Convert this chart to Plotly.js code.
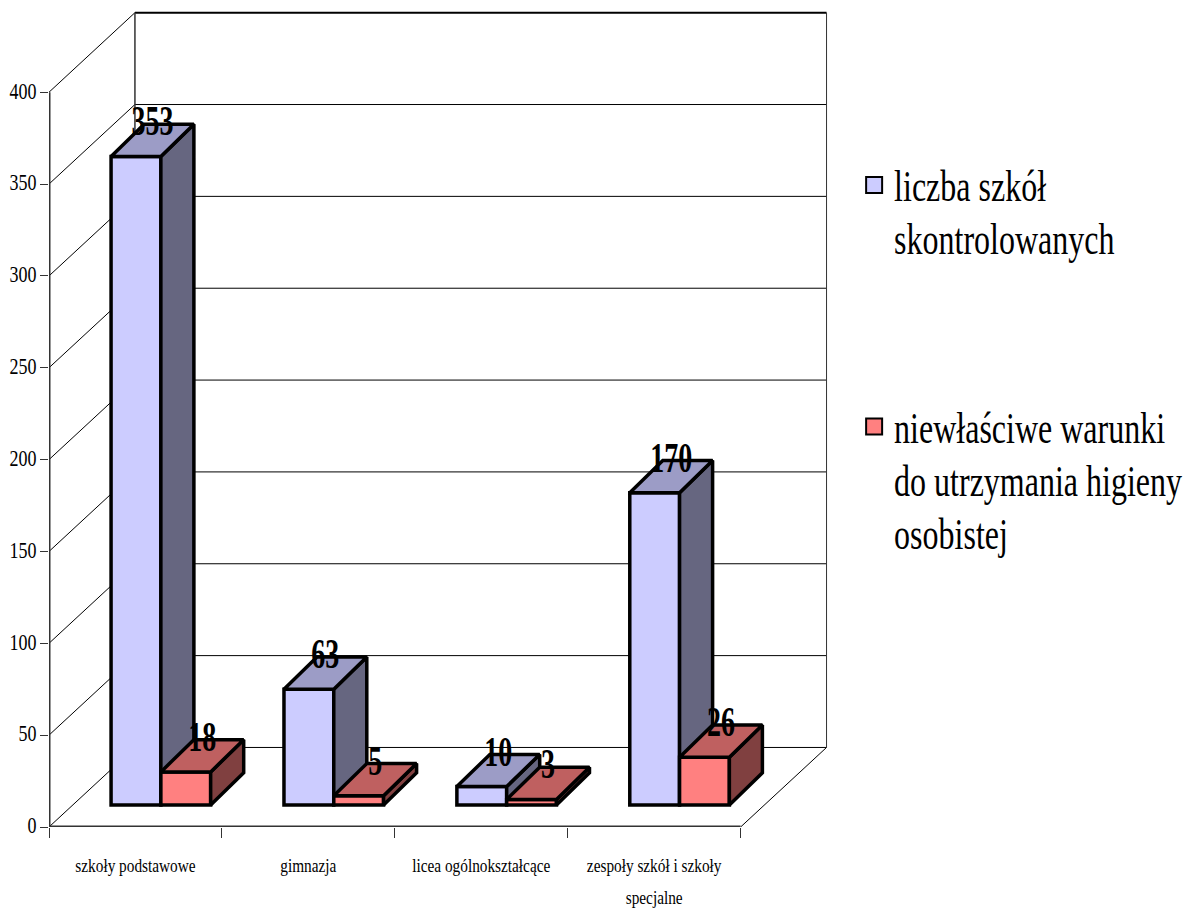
<!DOCTYPE html>
<html>
<head>
<meta charset="utf-8">
<script src="https://cdn.plot.ly/plotly-3.0.1.min.js"></script>
<style>html,body{margin:0;padding:0;background:#fff}</style>
</head>
<body>
<div id="chart" style="width:1183px;height:909px"></div>
<script>
// Inspection results by school type
const categories = ['szkoły podstawowe', 'gimnazja', 'licea ogólnokształcące', 'zespoły szkół i szkoły<br>specjalne'];
const inspected = [353, 63, 10, 170];
const poorHygiene = [18, 5, 3, 26];
const inspectedName = 'liczba szkół<br>skontrolowanych';
const poorHygieneName = 'niewłaściwe warunki<br>do utrzymania higieny<br>osobistej';
const yTicks = [0, 50, 100, 150, 200, 250, 300, 350, 400];

// Oblique projection of the 3-D box, in axis units
const wallDx = 0.497, wallDy = 43.3;   // floor depth
const barDx = 0.191, barDy = 17.5;     // column depth
const barBase = 12;                    // columns stand forward of the back wall
const barWidth = 0.288;
const groupCentre = 0.647;
const labelLift = 6.5;
const edgeRoomX = 0.02, edgeRoomY = 2; // keeps the outer wall lines from being clipped
const serif = '"Liberation Serif", serif';

const xRange = [0, categories.length + wallDx + edgeRoomX];
const yRange = [0, 400 + wallDy + edgeRoomY];

function columnFaces(values, left, colours, xa, ya) {
  const traces = [];
  const face = (xs, ys, fill) => traces.push({
    type: 'scatter', mode: 'lines', x: xs, y: ys, xaxis: xa, yaxis: ya,
    fill: 'toself', fillcolor: fill, line: {color: '#000', width: 3.5},
    hoverinfo: 'skip', showlegend: false
  });
  values.forEach((v, i) => {
    const x0 = i + groupCentre + left, x1 = x0 + barWidth, top = barBase + v;
    face([x1, x1 + barDx, x1 + barDx, x1, x1],
         [barBase, barBase + barDy, top + barDy, top, barBase], colours.side);
    face([x0, x1, x1 + barDx, x0 + barDx, x0],
         [top, top, top + barDy, top + barDy, top], colours.top);
  });
  return traces;
}

function columnFronts(values, left, colour, xa, ya) {
  return {
    type: 'bar', x: values.map((_, i) => i + groupCentre + left + barWidth / 2),
    y: values, base: values.map(() => barBase), width: barWidth,
    xaxis: xa, yaxis: ya, marker: {color: colour, line: {color: '#000', width: 3.5}},
    hoverinfo: 'y', showlegend: false
  };
}

function valueLabels(values, left) {
  return {
    type: 'scatter', mode: 'text', xaxis: 'x2', yaxis: 'y2',
    x: values.map((_, i) => i + groupCentre + left + barWidth / 2 + barDx / 2),
    y: values.map(v => barBase + v + barDy / 2 + labelLift),
    text: values.map(String), textposition: 'middle center', cliponaxis: false,
    textfont: {family: serif, size: 28, color: '#000', weight: 'bold'},
    hoverinfo: 'skip', showlegend: false
  };
}

function legendEntry(name, colour, group) {
  return {
    type: 'scatter', mode: 'markers', x: [null], y: [null], name: name, legendgroup: group,
    marker: {symbol: 'square', size: 16, color: colour, line: {color: '#000', width: 2}}
  };
}

const blue = {front: '#CCCCFF', top: '#9C9CC6', side: '#666680'};
const red = {front: '#FF8080', top: '#BF6060', side: '#804040'};

// Multi-line labels keep a wide line pitch: the outer font sets the pitch, the span the glyph size
const sized = (s, px) => s.split('<br>').map(t => '<span style="font-size:' + px + 'px">' + t + '</span>').join('<br>');

const data = [
  legendEntry(sized(inspectedName, 32), blue.front, 'a'),
  legendEntry(sized(poorHygieneName, 32), red.front, 'b'),
  columnFronts(inspected, -barWidth, blue.front, 'x', 'y'),
  ...columnFaces(inspected, -barWidth, blue, 'x', 'y'),
  columnFronts(poorHygiene, 0, red.front, 'x2', 'y2'),
  ...columnFaces(poorHygiene, 0, red, 'x2', 'y2'),
  valueLabels(inspected, -barWidth),
  valueLabels(poorHygiene, 0)
];

// Walls and floor of the box, below the columns
const edge = (x0, y0, x1, y1, width, color) => ({
  type: 'line', layer: 'below', xref: 'x', yref: 'y', x0, y0, x1, y1,
  line: {color: color || '#000', width: width || 1}
});
const nCat = categories.length;
const shapes = [];
yTicks.forEach(t => {
  shapes.push(edge(0, t, wallDx, t + wallDy));
  shapes.push(edge(wallDx, t + wallDy, nCat + wallDx, t + wallDy, t === 400 ? 2 : 1));
});
shapes.push(edge(0, 0, 0, 400, 3, '#333'));
shapes.push(edge(0, 0, nCat, 0, 3, '#333'));
shapes.push(edge(nCat, 0, nCat + wallDx, wallDy));
shapes.push(edge(wallDx, wallDy, wallDx, 400 + wallDy, 1.5, '#333'));
shapes.push(edge(nCat + wallDx, wallDy, nCat + wallDx, 400 + wallDy, 1, '#333'));

const layout = {
  width: 1183, height: 909,
  margin: {l: 49, r: 352.5, t: 8.8, b: 82, pad: 0},
  paper_bgcolor: '#fff', plot_bgcolor: 'rgba(0,0,0,0)',
  barmode: 'overlay', showlegend: true, hovermode: false,
  font: {family: serif, color: '#000'},
  xaxis: {
    range: xRange, showgrid: false, zeroline: false, showline: false,
    tickmode: 'array', tickvals: categories.map((_, i) => i + 0.5),
    ticktext: categories.map(c => sized(c, 15.3)),
    ticks: '', tickfont: {family: serif, size: 24.6, color: '#000'}, ticklabelstandoff: 19
  },
  xaxis2: {
    range: xRange, overlaying: 'x', anchor: 'y2', side: 'bottom', showgrid: false, zeroline: false,
    showline: false, tickmode: 'array', tickvals: categories.map((_, i) => i).concat(nCat),
    showticklabels: false, ticks: 'outside', ticklen: 10, tickwidth: 1, tickcolor: '#333'
  },
  yaxis: {
    range: yRange, showgrid: false, zeroline: false, showline: false,
    tickmode: 'array', tickvals: yTicks, ticks: 'outside', ticklen: 8, tickwidth: 1, tickcolor: '#333',
    tickfont: {family: serif, size: 18, color: '#000'}, ticklabelstandoff: 0
  },
  yaxis2: {
    range: yRange, overlaying: 'y', anchor: 'x2', showgrid: false, zeroline: false,
    showline: false, showticklabels: false, ticks: ''
  },
  legend: {
    xref: 'container', yref: 'container', x: 0.722, y: 0.833, xanchor: 'left', yanchor: 'top',
    valign: 'top', traceorder: 'grouped', tracegroupgap: 132, itemclick: false, itemdoubleclick: false,
    bgcolor: 'rgba(0,0,0,0)', font: {family: serif, size: 41, color: '#000'}
  },
  shapes
};

// The typeface is set tall and condensed: enlarge the glyphs and narrow them about their anchor
function condense(selector, narrow) {
  document.querySelectorAll(selector).forEach(text => {
    const grow = el => {
      el.style.fontSize = (parseFloat(getComputedStyle(el).fontSize) / narrow) + 'px';
    };
    const spans = text.querySelectorAll('tspan[style*="font-size"]');
    if (spans.length) spans.forEach(grow); else grow(text);
    const ax = parseFloat(text.getAttribute('x')) || 0;
    const prior = text.getAttribute('transform') || '';
    text.setAttribute('transform', prior + ' translate(' + ax + ',0) scale(' + narrow + ',1) translate(' + (-ax) + ',0)');
  });
}

Plotly.newPlot('chart', data, layout, {displayModeBar: false, staticPlot: true}).then(() => {
  condense('.legendtext', 0.72);
  condense('.xtick text', 0.78);
  condense('.ytick text', 0.8);
  condense('.textpoint text', 0.68);
});
</script>
</body>
</html>
